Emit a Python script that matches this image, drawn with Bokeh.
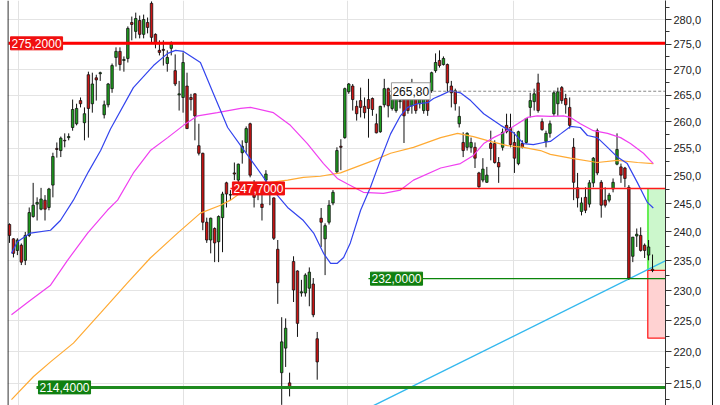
from bokeh.plotting import figure
from bokeh.models import Range1d, FixedTicker, CustomJSTickFormatter, Label, Span, Grid, ColumnDataSource
from bokeh.embed import file_html
from bokeh.resources import INLINE

# ---------------- data ----------------
opens = [241.3, 238.8, 236.8, 237.7, 235.1, 239.4, 242.7, 244.9, 244.0, 245.6,
         244.3, 248.3, 255.0, 254.6, 256.5, 257.0, 258.9, 259.6, 264.0, 259.8,
         269.0, 263.4, 268.4, 269.2, 261.3, 263.2, 266.3, 272.4, 273.6, 271.8,
         272.2, 279.4, 277.6, 279.8, 277.0, 279.4, 283.3, 277.0, 273.8, 274.0,
         271.2, 274.2, 269.8, 265.1, 264.6, 266.8, 264.6, 265.3, 255.5, 254.1,
         241.7, 238.6, 240.6, 238.3, 242.5, 248.7, 246.5, 250.5, 249.2, 254.2,
         256.1, 259.6, 248.7, 247.0, 244.9, 249.2, 247.0, 246.0, 237.0, 216.7,
         220.6, 215.1, 234.9, 233.3, 229.6, 229.6, 230.4, 231.1, 222.1, 242.4,
         238.8, 241.7, 245.1, 250.7, 255.4, 257.0, 265.7, 266.8, 262.9, 264.0,
         262.9, 264.2, 264.4, 259.6, 258.1, 263.2, 266.3, 262.5, 262.1, 263.8,
         265.9, 265.5, 263.0, 265.3, 263.4, 262.1, 264.8, 265.9, 269.8, 271.8,
         271.0, 271.0, 266.8, 265.9, 259.6, 256.1, 255.2, 255.2, 255.2, 250.5,
         249.2, 248.8, 255.9, 255.9, 252.4, 255.2, 259.3, 258.9, 256.1, 252.2,
         255.9, 256.1, 262.7, 263.8, 267.4, 260.0, 256.3, 257.8, 261.5, 263.4,
         266.5, 264.4, 262.7, 255.2, 247.8, 243.6, 246.1, 244.9, 248.7, 258.3,
         248.8, 245.6, 245.6, 247.6, 252.1, 251.6, 251.4, 247.9, 235.8, 239.3,
         239.4, 237.7, 236.0, 233.6]
highs = [241.5, 238.9, 238.9, 238.0, 240.0, 244.3, 248.7, 246.1, 247.8, 246.5,
         247.8, 254.2, 256.1, 257.2, 257.8, 257.8, 264.2, 263.4, 264.6, 262.7,
         269.6, 269.4, 269.0, 269.6, 264.0, 267.4, 271.2, 274.4, 274.4, 272.6,
         278.6, 280.6, 281.4, 280.8, 281.0, 280.4, 283.7, 277.2, 275.8, 275.8,
         273.8, 275.6, 273.0, 267.8, 273.4, 269.4, 265.3, 265.4, 259.6, 254.2,
         242.5, 242.5, 240.8, 242.9, 247.1, 248.9, 247.4, 252.4, 252.2, 256.5,
         259.1, 259.8, 249.2, 247.9, 246.9, 251.0, 248.3, 246.1, 238.6, 225.6,
         225.4, 216.7, 235.8, 233.4, 231.8, 232.9, 233.9, 232.1, 223.2, 244.2,
         241.5, 245.6, 247.4, 255.2, 256.7, 266.5, 267.4, 267.2, 264.0, 266.5,
         264.6, 268.2, 264.6, 261.5, 263.0, 268.2, 266.5, 265.7, 264.6, 265.1,
         267.2, 266.3, 268.2, 266.5, 265.9, 265.9, 265.5, 269.6, 273.2, 273.8,
         272.6, 271.2, 267.8, 266.3, 262.9, 258.0, 258.0, 257.0, 256.1, 250.7,
         253.2, 251.6, 258.3, 256.5, 253.4, 258.7, 261.5, 261.5, 258.0, 258.3,
         256.5, 260.6, 265.5, 266.3, 269.2, 260.6, 258.3, 260.2, 265.9, 266.5,
         266.8, 265.3, 264.6, 256.9, 250.5, 246.1, 247.9, 249.2, 253.4, 258.7,
         249.2, 247.9, 246.9, 249.5, 257.8, 252.2, 251.6, 248.3, 239.1, 240.6,
         240.8, 238.0, 238.6, 236.1]
lows = [238.1, 235.6, 236.0, 234.3, 234.3, 239.1, 242.5, 242.0, 243.8, 242.0,
        243.8, 246.1, 253.3, 253.4, 255.2, 256.5, 258.3, 259.3, 262.7, 256.5,
        257.0, 261.7, 264.0, 267.8, 260.6, 262.7, 265.5, 270.6, 269.8, 269.6,
        271.4, 275.8, 276.2, 276.2, 276.2, 277.2, 275.4, 274.2, 272.8, 270.8,
        269.6, 272.8, 266.8, 262.1, 261.7, 258.6, 262.1, 256.5, 253.7, 240.3,
        238.1, 236.3, 234.8, 234.8, 236.5, 244.3, 245.6, 249.2, 248.8, 252.2,
        254.2, 249.7, 244.3, 245.6, 242.0, 248.8, 244.7, 238.6, 227.8, 211.7,
        217.6, 213.0, 228.1, 222.4, 229.0, 229.0, 227.4, 225.6, 215.6, 237.4,
        232.6, 241.3, 244.7, 250.5, 251.0, 256.8, 265.3, 262.1, 260.2, 260.8,
        260.6, 257.0, 261.1, 257.8, 257.9, 262.7, 260.8, 262.1, 261.7, 262.5,
        256.0, 261.5, 261.5, 261.5, 262.5, 261.5, 261.1, 265.5, 269.4, 270.4,
        270.8, 265.7, 262.7, 262.1, 258.9, 253.4, 254.6, 254.2, 251.4, 247.8,
        248.8, 248.7, 252.8, 252.2, 248.7, 254.6, 257.8, 255.2, 250.5, 251.9,
        255.0, 255.9, 260.8, 262.1, 261.7, 258.3, 255.2, 257.0, 261.1, 261.1,
        263.4, 261.5, 258.7, 245.6, 244.3, 242.9, 243.3, 244.3, 247.9, 250.1,
        242.5, 244.3, 245.2, 247.0, 251.9, 248.7, 247.9, 231.8, 234.8, 237.4,
        236.6, 235.5, 235.1, 233.1]
closes = [239.4, 236.3, 238.6, 234.8, 239.4, 243.4, 244.7, 245.2, 245.8, 244.0,
          247.6, 253.5, 254.8, 256.9, 256.4, 257.2, 262.3, 262.5, 263.4, 261.5,
          262.5, 267.2, 268.0, 269.4, 263.2, 267.2, 270.8, 273.6, 271.0, 272.0,
          278.2, 279.0, 280.2, 277.0, 280.0, 278.4, 276.4, 275.2, 273.4, 273.8,
          272.4, 275.2, 267.2, 265.3, 271.4, 258.7, 264.2, 261.1, 254.1, 241.7,
          238.6, 242.4, 238.1, 242.7, 246.7, 246.7, 246.6, 250.3, 252.1, 255.4,
          258.7, 250.1, 246.1, 247.1, 244.3, 250.3, 247.2, 238.9, 231.3, 221.6,
          223.8, 214.5, 230.1, 224.6, 229.8, 232.6, 233.1, 226.0, 218.4, 241.7,
          241.1, 244.7, 247.0, 254.6, 255.2, 266.3, 267.2, 264.2, 261.5, 262.7,
          261.7, 262.5, 262.3, 257.9, 262.9, 266.3, 263.0, 265.1, 264.4, 264.0,
          261.1, 262.1, 264.6, 262.1, 265.3, 264.9, 262.1, 269.4, 271.4, 270.8,
          272.2, 267.4, 265.5, 263.4, 261.0, 254.6, 257.8, 256.1, 253.2, 248.0,
          251.2, 250.1, 255.0, 252.4, 251.6, 258.0, 258.1, 255.7, 253.2, 258.1,
          255.2, 260.6, 264.0, 265.3, 262.1, 258.5, 257.8, 259.6, 265.5, 265.7,
          264.0, 263.2, 259.3, 248.8, 246.0, 245.1, 243.8, 248.7, 253.2, 250.5,
          244.7, 244.7, 246.5, 248.8, 254.8, 250.1, 249.5, 232.1, 239.1, 239.6,
          236.8, 236.8, 237.4, 233.4]

# moving averages (bar index, price)
ma_fast_x = [0.5, 2.0, 5.3, 10.4, 12.9, 16.2, 20.0, 23.1, 25.6, 31.4, 36.5, 40.1, 42.1, 44.1,
             48.4, 51.7, 53.5, 55.3, 58.6, 61.9, 66.2, 70.5, 74.5, 77.1, 79.6, 81.4, 83.1,
             84.7, 86.4, 89.0, 91.5, 94.0, 96.6, 99.1, 100.9, 103.4, 106.0, 107.5, 109.3,
             111.8, 114.3, 116.9, 120.2, 124.5, 127.8, 130.3, 132.8, 135.4, 137.1, 139.7,
             142.2, 144.7, 146.5, 149.0, 151.6, 154.1, 156.6, 159.2, 161.7, 163.2]
ma_fast_y = [236.3, 238.3, 239.8, 240.3, 242.0, 245.6, 250.7, 254.6, 258.6, 266.5, 270.8, 273.2,
             273.8, 273.6, 271.4, 265.3, 262.1, 258.9, 255.5, 252.2, 247.9, 244.3, 242.0, 239.8,
             236.3, 234.6, 234.6, 235.6, 238.1, 243.8, 247.9, 252.8, 257.7, 261.1, 262.7, 263.4,
             263.6, 264.4, 265.0, 265.9, 265.5, 264.0, 261.5, 259.3, 257.9, 255.9, 255.7, 256.1,
             256.3, 257.7, 259.1, 258.9, 257.4, 257.0, 255.2, 253.4, 252.2, 248.7, 245.2, 244.2]
ma_mid_x = [0.5, 5.3, 10.4, 14.7, 19.8, 24.8, 27.4, 31.4, 35.7, 40.1, 44.1, 47.7, 52.7, 58.6,
            61.1, 66.9, 71.2, 75.5, 79.6, 83.1, 85.7, 89.7, 94.8, 99.1, 102.4, 109.3, 114.3,
            117.6, 120.2, 122.7, 125.2, 128.8, 131.3, 133.8, 137.1, 140.4, 142.2, 144.7, 148.0,
            151.6, 154.9, 157.4, 160.7, 163.2]
ma_mid_y = [226.0, 228.4, 230.9, 235.1, 239.8, 243.8, 245.6, 250.5, 254.6, 257.0, 259.3, 261.1,
            261.7, 262.5, 262.7, 261.7, 259.3, 255.9, 252.2, 249.5, 248.5, 247.0, 246.8, 247.4,
            249.2, 251.4, 252.2, 253.7, 255.9, 257.0, 257.9, 259.6, 260.8, 261.1, 261.0, 261.1,
            260.8, 259.6, 258.3, 257.8, 257.0, 255.9, 254.1, 252.2]
ma_slow_x = [0.5, 6.1, 10.4, 16.2, 23.1, 29.9, 35.7, 42.6, 48.4, 53.5, 56.0, 58.6, 61.9, 66.2,
             70.5, 74.5, 78.8, 83.9, 92.3, 96.6, 102.4, 109.3, 113.6, 117.6, 121.9, 126.2,
             130.3, 134.6, 137.1, 142.2, 149.0, 154.1, 159.2, 163.2]
ma_slow_y = [212.5, 216.1, 218.4, 221.4, 226.3, 231.3, 235.5, 239.8, 243.3, 244.7, 245.6, 246.9,
             247.8, 248.8, 249.2, 249.7, 249.9, 250.5, 252.8, 254.1, 255.2, 257.0, 257.8, 257.2,
             256.3, 255.5, 255.2, 254.6, 253.9, 253.2, 252.4, 252.8, 252.4, 252.2]

trend_x = [89.0, 168.0]
trend_y = [210.6, 235.6]

level_values = [275.2, 247.7, 232.0, 214.4]
dash_level = 265.8
target_price = 247.7
entry_price = 233.4
stop_price = 222.2

y_ticks = [215, 220, 225, 230, 235, 240, 245, 250, 255, 260, 265, 270, 275, 280]
y_minor = [212.5, 217.5, 222.5, 227.5, 232.5, 237.5, 242.5, 247.5, 252.5, 257.5,
           262.5, 267.5, 272.5, 277.5, 282.5]
period_marks = [2.4, 44.1, 85.6, 127.7]

# ---------------- figure ----------------
FONT = "Liberation Sans"
p = figure(width=713, height=405, output_backend="svg", toolbar_location=None,
           y_axis_type="log", y_axis_location="right", x_axis_location=None,
           x_range=Range1d(-0.507, 166.29), y_range=Range1d(211.6, 283.89),
           min_border_left=7, min_border_top=0, min_border_bottom=0, min_border_right=48,
           background_fill_color="white", border_fill_color="white",
           outline_line_color=None,
           styles={"border-right": "1px solid #222"})

for g in p.xgrid:
    g.visible = False
xg = Grid(dimension=0, ticker=FixedTicker(ticks=period_marks),
          grid_line_color="#e2e2e2", grid_line_width=1)
p.add_layout(xg, "center")

ticker = FixedTicker(ticks=y_ticks, minor_ticks=y_minor)
ax = p.yaxis[0]
ax.ticker = ticker
ax.formatter = CustomJSTickFormatter(code="return tick.toFixed(1).replace('.', ',');")
ax.major_label_text_font = FONT
ax.major_label_text_font_size = "11px"
ax.major_label_text_color = "#222222"
ax.axis_line_color = "#333333"
ax.major_tick_line_color = "#333333"
ax.minor_tick_line_color = "#333333"
ax.major_tick_out = 6
ax.major_tick_in = 0
ax.minor_tick_out = 4
ax.minor_tick_in = 0
ax.major_label_standoff = 2
p.ygrid.ticker = ticker
p.ygrid.grid_line_color = "#e4e4e4"

# left border line
p.add_layout(Span(location=-0.4, dimension="height", line_color="#111111", line_width=1.2))

# target / stop boxes
p.quad(left=[161.8], right=[170], bottom=[entry_price], top=[target_price],
       fill_color="#ccf7cc", fill_alpha=1.0, line_color=None)
p.segment(x0=[161.85], y0=[entry_price], x1=[161.85], y1=[target_price],
          line_color="#66ee55", line_width=2)
p.quad(left=[161.8], right=[170], bottom=[stop_price], top=[entry_price],
       fill_color="#ffd2d2", fill_alpha=1.0, line_color="#ff2020", line_width=1.3)

# trend line
p.line(trend_x, trend_y, line_color="#33b8ee", line_width=1.4)

# candles
idx = list(range(len(opens)))
colors = ["#1e9e1e" if c >= o else "#cc1414" for o, c in zip(opens, closes)]
src = ColumnDataSource(dict(x=idx, o=opens, h=highs, l=lows, c=closes,
                            top=[max(o, c) for o, c in zip(opens, closes)],
                            bot=[min(o, c) for o, c in zip(opens, closes)],
                            col=colors))
p.segment(x0="x", y0="l", x1="x", y1="h", source=src, line_color="#111111", line_width=1)
p.vbar(x="x", top="top", bottom="bot", width=0.62, source=src,
       fill_color="col", line_color="#111111", line_width=0.8)

# moving averages
p.line(ma_slow_x, ma_slow_y, line_color="#ffaa33", line_width=1.2)
p.line(ma_mid_x, ma_mid_y, line_color="#f040f0", line_width=1.2)
p.line(ma_fast_x, ma_fast_y, line_color="#3344ee", line_width=1.2)

# level lines
level_colors = ["#ff0000", "#ff1a1a", "#0a850a", "#1e8a1e"]
level_widths = [3, 1.5, 1.3, 3]
level_start = [-0.25, 56.0, 91.0, 6.84]
for v, col, w, x0 in zip(level_values, level_colors, level_widths, level_start):
    p.segment(x0=[x0], y0=[v], x1=[170], y1=[v], line_color=col, line_width=w)
p.segment(x0=[96.0], y0=[dash_level], x1=[170], y1=[dash_level],
          line_color="#888888", line_width=1, line_dash="3 2")

# labels
box_colors = ["#f01010", "#f01010", "#108010", "#108010"]
for v, col, x0 in zip(level_values, box_colors, level_start):
    p.add_layout(Label(x=x0, y=v, text=f"{v:.4f}".replace(".", ","), x_offset=2,
                       text_font=FONT, text_font_size="12px", text_color="white",
                       text_baseline="middle", text_align="left",
                       background_fill_color=col, border_line_color=col,
                       padding=(1, 2)))
p.add_layout(Label(x=95.8, y=dash_level, text=f"{dash_level:.2f}".replace(".", ","), x_offset=4,
                   text_font=FONT, text_font_size="12px", text_color="#111111",
                   text_baseline="middle", text_align="left",
                   background_fill_color="white", border_line_color="#999999",
                   padding=(1, 4)))

open("out.html", "w").write(file_html(p, INLINE))
